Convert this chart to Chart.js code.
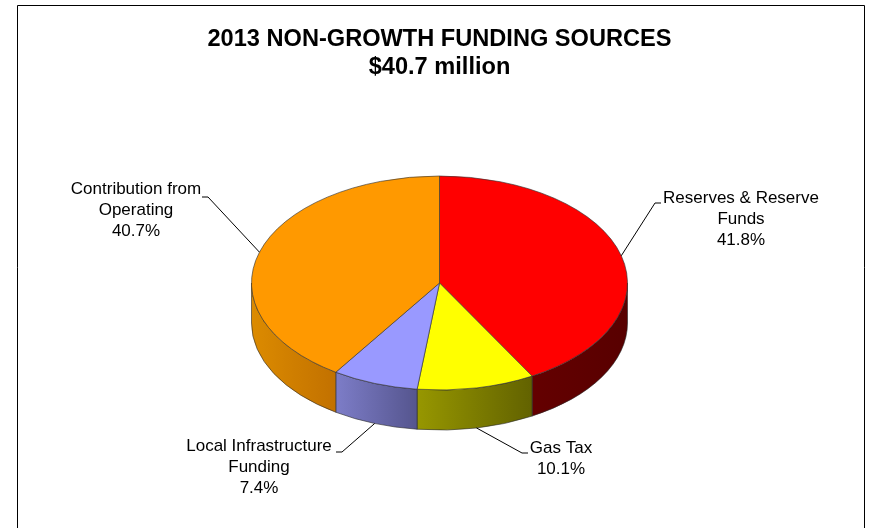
<!DOCTYPE html>
<html>
<head>
<meta charset="utf-8">
<script src="https://cdn.jsdelivr.net/npm/chart.js@4.4.1/dist/chart.umd.min.js"></script>
<style>
  html, body { margin: 0; padding: 0; background: #ffffff; }
  #wrap { width: 871px; height: 528px; position: relative; }
</style>
</head>
<body>
<div id="wrap"><canvas id="chart"></canvas></div>
<script>
// Funding sources, clockwise from 12 o'clock
const categories = ['Reserves & Reserve Funds', 'Gas Tax', 'Local Infrastructure Funding', 'Contribution from Operating'];
const shares = [41.8, 10.1, 7.4, 40.7];
const labelLines = [['Reserves & Reserve', 'Funds'], ['Gas Tax'], ['Local Infrastructure', 'Funding'], ['Contribution from', 'Operating']];
const titleLines = ['2013 NON-GROWTH FUNDING SOURCES', '$40.7 million'];

const topColors = ['#FF0000', '#FFFF00', '#9999FF', '#FF9900'];
const sideColors = [['#640000', '#580000'], ['#979700', '#626200'], ['#7d7dc8', '#55558e'], ['#dc8b00', '#c27100']];

const FONT = 'Arial, "Liberation Sans", Helvetica, sans-serif';

// label block placement: text centre x, first line centre y, leader elbow and tail
const labelPlacement = [
  { x: 741, y: 198, elbow: [655, 203], tail: [661, 203] },
  { x: 561, y: 448, elbow: [522, 453], tail: [528, 453] },
  { x: 259, y: 446, elbow: [342, 452], tail: [336, 452] },
  { x: 136, y: 189, elbow: [208, 197], tail: [202, 197] }
];

// 3D tilt geometry
const tilt = { centerY: 283, squash: 107 / 188, depth: 40 };

function ellipseGeom(chart) {
  const arcs = chart.getDatasetMeta(0).data;
  const a = arcs[0];
  const r = a.outerRadius;
  return { arcs, ox: a.x, oy: a.y, cx: a.x, cy: tilt.centerY, r, b: r * tilt.squash };
}

const frame = {
  id: 'frame',
  beforeDraw(chart) {
    const ctx = chart.ctx;
    ctx.save();
    ctx.fillStyle = '#ffffff';
    ctx.fillRect(0, 0, chart.width, chart.height);
    ctx.strokeStyle = '#000000';
    ctx.lineWidth = 1;
    ctx.beginPath();
    ctx.moveTo(17.5, chart.height + 2);
    ctx.lineTo(17.5, 5.5);
    ctx.lineTo(864.5, 5.5);
    ctx.lineTo(864.5, chart.height + 2);
    ctx.stroke();
    ctx.restore();
  }
};

const pie3d = {
  id: 'pie3d',
  beforeDatasetsDraw(chart) {
    const ctx = chart.ctx;
    const g = ellipseGeom(chart);
    const d = tilt.depth;
    // front walls of the disc
    g.arcs.forEach((arc, i) => {
      const s = Math.max(arc.startAngle, 0);
      const e = Math.min(arc.endAngle, Math.PI);
      if (e <= s) return;
      const xl = g.cx + g.r * Math.cos(e);
      const xr = g.cx + g.r * Math.cos(s);
      const grad = ctx.createLinearGradient(xl, 0, xr, 0);
      grad.addColorStop(0, sideColors[i][0]);
      grad.addColorStop(1, sideColors[i][1]);
      ctx.save();
      ctx.beginPath();
      ctx.ellipse(g.cx, g.cy, g.r, g.b, 0, s, e, false);
      ctx.lineTo(g.cx + g.r * Math.cos(e), g.cy + g.b * Math.sin(e) + d);
      ctx.ellipse(g.cx, g.cy + d, g.r, g.b, 0, e, s, true);
      ctx.closePath();
      ctx.fillStyle = grad;
      ctx.fill();
      ctx.strokeStyle = 'rgba(40,40,40,0.75)';
      ctx.lineWidth = 0.8;
      ctx.stroke();
      ctx.restore();
    });
    // squash the top face into an ellipse
    ctx.save();
    ctx.translate(g.cx, g.cy);
    ctx.scale(1, tilt.squash);
    ctx.translate(-g.ox, -g.oy);
  },
  afterDatasetsDraw(chart) {
    const ctx = chart.ctx;
    ctx.restore();
    const g = ellipseGeom(chart);
    ctx.save();
    ctx.font = '17px ' + FONT;
    ctx.fillStyle = '#000000';
    ctx.textAlign = 'center';
    ctx.textBaseline = 'middle';
    g.arcs.forEach((arc, i) => {
      const m = (arc.startAngle + arc.endAngle) / 2;
      const sin = Math.sin(m);
      const ax = g.cx + g.r * Math.cos(m);
      const ay = g.cy + g.b * sin + (sin > 0 ? tilt.depth : 0);
      const p = labelPlacement[i];
      ctx.strokeStyle = '#000000';
      ctx.lineWidth = 1;
      ctx.beginPath();
      ctx.moveTo(ax, ay);
      ctx.lineTo(p.elbow[0], p.elbow[1]);
      ctx.lineTo(p.tail[0], p.tail[1]);
      ctx.stroke();
      const lines = labelLines[i].concat([shares[i].toFixed(1) + '%']);
      lines.forEach((t, k) => ctx.fillText(t, p.x, p.y + k * 21));
    });
    ctx.restore();
  }
};

new Chart(document.getElementById('chart'), {
  type: 'pie',
  data: {
    labels: categories,
    datasets: [{
      data: shares,
      backgroundColor: topColors,
      borderColor: 'rgba(50,50,50,0.8)',
      borderWidth: 1
    }]
  },
  options: {
    responsive: true,
    maintainAspectRatio: false,
    animation: false,
    events: [],
    radius: 188,
    layout: { padding: { left: 8, right: 0, top: 0, bottom: 0 } },
    plugins: {
      legend: { display: false },
      tooltip: { enabled: false },
      title: {
        display: true,
        text: titleLines,
        color: '#000000',
        font: { family: FONT, size: 23.6, weight: 'bold', lineHeight: 1.2 },
        padding: { top: 25, bottom: 10 }
      }
    }
  },
  plugins: [frame, pie3d]
});
</script>
</body>
</html>
